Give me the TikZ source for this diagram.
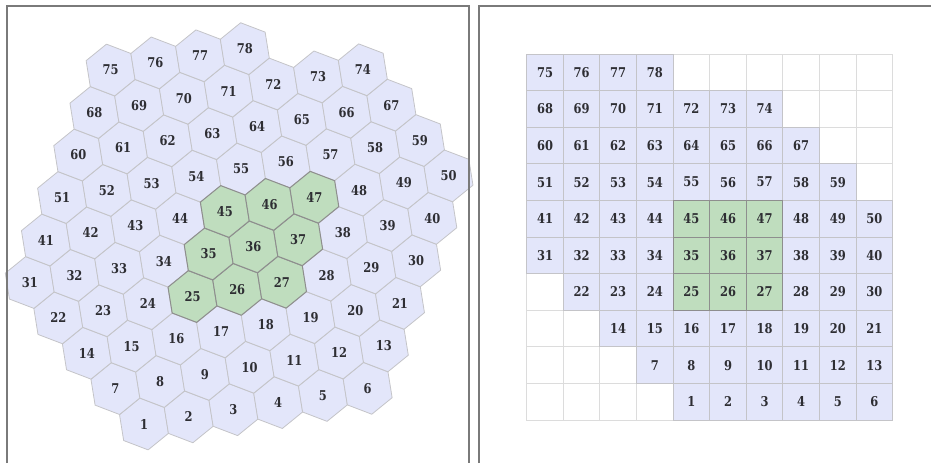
\documentclass[tikz,border=0pt]{standalone}
\usepackage{fontspec}
\setmainfont{DejaVu Serif}
\newfontfamily\numfont[FakeStretch=0.85]{DejaVu Serif}
\definecolor{lav}{HTML}{E3E6FA}
\definecolor{hexline}{HTML}{C4C4C8}
\definecolor{grn}{HTML}{BFDDBE}
\definecolor{grnline}{HTML}{8E8E8E}
\definecolor{txt}{HTML}{2E2E33}
\definecolor{emptyline}{HTML}{DCDCDC}
\definecolor{frameline}{HTML}{7A7A7A}
\begin{document}
\begin{tikzpicture}[x=1pt,y=-1pt,
  hexcell/.style={fill=lav, draw=hexline, line width=0.8pt, line join=round},
  hexgreen/.style={fill=grn, draw=grnline, line width=1pt, line join=round},
  sqcell/.style={fill=lav, draw=hexline, line width=1pt},
  sqgreen/.style={fill=grn, draw=grnline, line width=1pt},
  sqempty/.style={fill=white, draw=emptyline, line width=1pt},
  lab/.style={font=\numfont\bfseries\fontsize{13.5}{13.5}\selectfont, text=txt, inner sep=0pt},
  frame/.style={draw=frameline, line width=2pt}]
\useasboundingbox (0,0) rectangle (931,463);
\def\R{26.2}
% ---------- hex panel ----------
\foreach \r/\cmin/\cmax/\start in {0/4/9/1,1/3/9/7,2/2/9/14,3/1/9/22,4/0/9/31,5/0/9/41,6/0/8/51,7/0/7/60,8/0/6/68,9/0/3/75}{
  \foreach \c in {\cmin,...,\cmax}{
    \pgfmathtruncatemacro{\n}{\start+\c-\cmin}
    \pgfmathsetmacro{\hx}{-34.92+44.73*\c+16.17*\r}
    \pgfmathsetmacro{\hy}{452.52-7.13*\c-42.5*\r}
    \coordinate (hc\n) at (\hx,\hy);
    \filldraw[hexcell] (hc\n) +(20.9:\R) -- +(80.9:\R) -- +(140.9:\R) -- +(200.9:\R) -- +(260.9:\R) -- +(320.9:\R) -- cycle;
  }
}
\foreach \n in {25,26,27,35,36,37,45,46,47}{
  \filldraw[hexgreen] (hc\n) +(20.9:\R) -- +(80.9:\R) -- +(140.9:\R) -- +(200.9:\R) -- +(260.9:\R) -- +(320.9:\R) -- cycle;
}
\foreach \n in {1,...,78}{
  \node[lab] (h\n) at (hc\n) {\n};
}
% ---------- square panel ----------
\foreach \i in {0,...,9}{
  \foreach \j in {0,...,9}{
    \draw[sqempty] (526.7+36.6*\i,54+36.6*\j) rectangle ++(36.6,36.6);
  }
}
\foreach \r/\cmin/\cmax/\start in {0/4/9/1,1/3/9/7,2/2/9/14,3/1/9/22,4/0/9/31,5/0/9/41,6/0/8/51,7/0/7/60,8/0/6/68,9/0/3/75}{
  \foreach \c in {\cmin,...,\cmax}{
    \pgfmathtruncatemacro{\n}{\start+\c-\cmin}
    \pgfmathsetmacro{\sx}{526.7+36.6*\c}
    \pgfmathsetmacro{\sy}{54+36.6*(9-\r)}
    \coordinate (sc\n) at (\sx+18.3,\sy+18.3);
    \filldraw[sqcell] (\sx,\sy) rectangle ++(36.6,36.6);
  }
}
\foreach \n in {25,26,27,35,36,37,45,46,47}{
  \filldraw[sqgreen] (sc\n) +(-18.3,-18.3) rectangle +(18.3,18.3);
}
\foreach \n in {1,...,78}{
  \node[lab] (s\n) at (sc\n) {\n};
}
% ---------- frames ----------
\draw[frame] (7,463) -- (7,6) -- (468.5,6) -- (468.5,463);
\draw[frame] (479,463) -- (479,6) -- (931,6);
\end{tikzpicture}
\end{document}
